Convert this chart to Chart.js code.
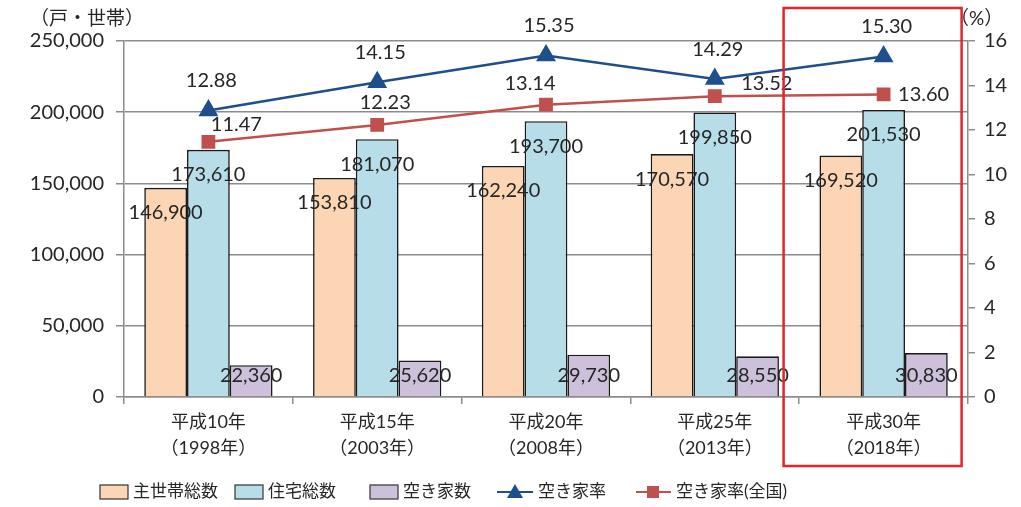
<!DOCTYPE html>
<html>
<head>
<meta charset="utf-8">
<script src="https://cdn.jsdelivr.net/npm/chart.js@4/dist/chart.umd.min.js"></script>
<style>
  html, body { margin: 0; padding: 0; background: #fff; }
  #wrap { width: 1021px; height: 507px; }
</style>
</head>
<body>
<div id="wrap"><canvas id="myChart" width="1021" height="507"></canvas></div>
<script>
// data
var categories = [
    ['平成10年', '（1998年）'],
    ['平成15年', '（2003年）'],
    ['平成20年', '（2008年）'],
    ['平成25年', '（2013年）'],
    ['平成30年', '（2018年）']
];
var mainHouseholds = [146900, 153810, 162240, 170570, 169520];
var totalHouses = [173610, 181070, 193700, 199850, 201530];
var vacantHouses = [22360, 25620, 29730, 28550, 30830];
var vacancyRate = [12.88, 14.15, 15.35, 14.29, 15.30];
var vacancyRateNational = [11.47, 12.23, 13.14, 13.52, 13.60];
var leftTicks = [0, 50000, 100000, 150000, 200000, 250000];
var rightTicks = [0, 2, 4, 6, 8, 10, 12, 14, 16];

var FONT = "Lato, 'Noto Sans CJK JP', sans-serif";
var TEXT = '#262626';
var GRID = '#8c8c8c';

// label offsets for the red line (style only)
var redLabelOffsets = [[28, -17], [8, -22], [-16, -21], [52, -13], [40, 0]];

function fmt(v) {
    return v.toLocaleString('en-US');
}

var labelPlugin = {
    id: 'valueLabels',
    afterDatasetsDraw: function(chart) {
        var ctx = chart.ctx;
        ctx.save();
        ctx.font = '20px ' + FONT;
        ctx.fillStyle = TEXT;
        ctx.textAlign = 'center';
        ctx.textBaseline = 'middle';
        chart.data.datasets.forEach(function(ds, i) {
            var meta = chart.getDatasetMeta(i);
            meta.data.forEach(function(el, j) {
                var v = ds.data[j];
                if (ds.type === 'line') {
                    if (i === 3) {
                        ctx.fillText(v.toFixed(2), el.x + 3, el.y - 30);
                    } else {
                        var o = redLabelOffsets[j];
                        ctx.fillText(v.toFixed(2), el.x + o[0], el.y + o[1]);
                    }
                } else if (i === 2) {
                    ctx.fillText(fmt(v), el.x, el.base - 21);
                } else {
                    ctx.fillText(fmt(v), el.x, el.y + 25);
                }
            });
        });
        ctx.restore();
    }
};

// axis units, highlight box and legend
var extrasPlugin = {
    id: 'extras',
    afterDraw: function(chart) {
        var ctx = chart.ctx;
        var x = chart.scales.x;
        ctx.save();
        ctx.font = '19px ' + FONT;
        ctx.fillStyle = TEXT;
        ctx.textBaseline = 'middle';
        ctx.textAlign = 'left';
        ctx.fillText('（戸・世帯）', 30, 19);
        ctx.fillText('（%）', 950, 19);

        var c = x.getPixelForValue(4);
        ctx.strokeStyle = '#e3242b';
        ctx.lineWidth = 2.5;
        ctx.strokeRect(c - 100, 8, 178, 458);

        // legend
        var ly = 492;
        ctx.font = '17px ' + FONT;
        var boxes = [
            { x: 100, fill: '#fcd5b5', text: '主世帯総数' },
            { x: 235, fill: '#b7dee8', text: '住宅総数' },
            { x: 370, fill: '#ccc0da', text: '空き家数' }
        ];
        boxes.forEach(function(b) {
            ctx.fillStyle = b.fill;
            ctx.fillRect(b.x, ly - 7, 28, 14);
            ctx.strokeStyle = '#333';
            ctx.lineWidth = 1.2;
            ctx.strokeRect(b.x, ly - 7, 28, 14);
            ctx.fillStyle = TEXT;
            ctx.fillText(b.text, b.x + 33, ly);
        });
        // line items
        ctx.strokeStyle = '#1f4e8c';
        ctx.lineWidth = 2;
        ctx.beginPath(); ctx.moveTo(497, ly); ctx.lineTo(533, ly); ctx.stroke();
        ctx.fillStyle = '#1f4e8c';
        ctx.beginPath(); ctx.moveTo(515, ly - 8); ctx.lineTo(523, ly + 6); ctx.lineTo(507, ly + 6); ctx.closePath(); ctx.fill();
        ctx.fillStyle = TEXT;
        ctx.fillText('空き家率', 538, ly);

        ctx.strokeStyle = '#c0504d';
        ctx.beginPath(); ctx.moveTo(636, ly); ctx.lineTo(671, ly); ctx.stroke();
        ctx.fillStyle = '#c0504d';
        ctx.fillRect(647, ly - 6, 12, 12);
        ctx.fillStyle = TEXT;
        ctx.fillText('空き家率(全国)', 676, ly);
        ctx.restore();
    }
};

var ctx = document.getElementById('myChart').getContext('2d');
var chart = new Chart(ctx, {
    type: 'bar',
    data: {
        labels: categories,
        datasets: [
            { label: '主世帯総数', data: mainHouseholds, backgroundColor: '#fcd5b5', borderColor: '#1a1a1a', borderWidth: 1.6, yAxisID: 'y', order: 2 },
            { label: '住宅総数', data: totalHouses, backgroundColor: '#b7dee8', borderColor: '#1a1a1a', borderWidth: 1.6, yAxisID: 'y', order: 2 },
            { label: '空き家数', data: vacantHouses, backgroundColor: '#ccc0da', borderColor: '#1a1a1a', borderWidth: 1.6, yAxisID: 'y', order: 2 },
            { type: 'line', label: '空き家率', data: vacancyRate, borderColor: '#1f4e8c', backgroundColor: '#1f4e8c', borderWidth: 2.5,
              pointStyle: 'triangle', pointRadius: 9, pointHoverRadius: 9, yAxisID: 'y1', order: 0 },
            { type: 'line', label: '空き家率(全国)', data: vacancyRateNational, borderColor: '#c0504d', backgroundColor: '#c0504d', borderWidth: 2.5,
              pointStyle: 'rect', pointRadius: 8, pointHoverRadius: 8, yAxisID: 'y1', order: 1 }
        ]
    },
    options: {
        responsive: false,
        animation: false,
        layout: { padding: { top: 41, left: 0, right: 0, bottom: 0 } },
        datasets: { bar: { categoryPercentage: 0.76, barPercentage: 1.0 } },
        plugins: { legend: { display: false }, tooltip: { enabled: false } },
        scales: {
            x: {
                grid: { drawOnChartArea: false, color: GRID, tickLength: 7, lineWidth: 1.5 },
                border: { color: GRID, width: 1.5 },
                ticks: { color: TEXT, font: { family: FONT, size: 18, lineHeight: 1.45 }, padding: 5, maxRotation: 0 },
                afterFit: function(s) { s.height = 110; }
            },
            y: {
                position: 'left',
                min: 0, max: 250000,
                afterBuildTicks: function(s) { s.ticks = leftTicks.map(function(v) { return { value: v }; }); },
                grid: { color: GRID, lineWidth: 1.5, tickLength: 8 },
                border: { color: GRID, width: 1.5 },
                ticks: { color: TEXT, font: { family: FONT, size: 20 }, padding: 12, callback: function(v) { return fmt(v); } },
                afterFit: function(s) { s.width = 124; }
            },
            y1: {
                position: 'right',
                min: 0, max: 16,
                afterBuildTicks: function(s) { s.ticks = rightTicks.map(function(v) { return { value: v }; }); },
                grid: { drawOnChartArea: false, color: GRID, lineWidth: 1.5, tickLength: 7 },
                border: { color: GRID, width: 1.5 },
                ticks: { color: TEXT, font: { family: FONT, size: 20 }, padding: 9 },
                afterFit: function(s) { s.width = 53; }
            }
        }
    },
    plugins: [labelPlugin, extrasPlugin]
});
</script>
</body>
</html>
